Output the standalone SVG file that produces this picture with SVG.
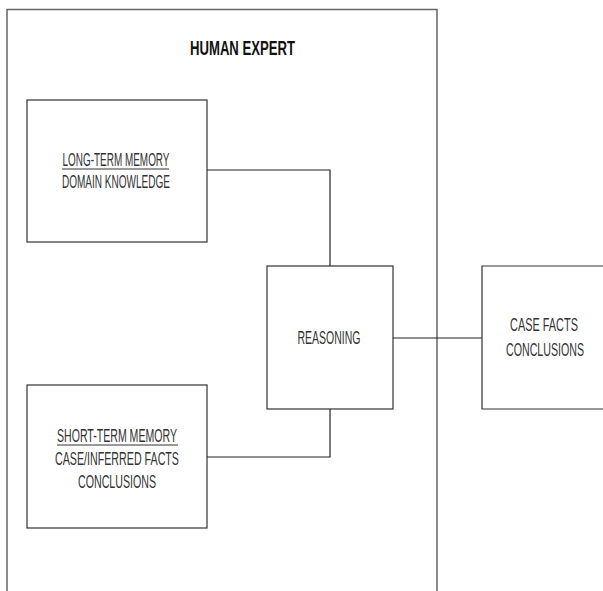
<svg xmlns="http://www.w3.org/2000/svg" width="603" height="591" viewBox="0 0 603 591">
<style>
.box{fill:#fff;stroke:#333;stroke-width:1.2}
.frame{fill:none;stroke:#666;stroke-width:1.5}
.conn{fill:none;stroke:#222;stroke-width:1.2}
.t{font-family:"Liberation Sans",Arial,sans-serif;font-size:18.5px;fill:#333;text-anchor:middle}
.title{font-family:"Liberation Sans",Arial,sans-serif;font-size:20px;font-weight:bold;fill:#111;text-anchor:middle}
.ul{stroke:#333;stroke-width:1}
</style>
<rect width="603" height="591" fill="#fff"/>
<g id="human-expert">
<path class="frame" d="M7,591 V9.5 H437 V591"/>
<text class="title" x="242.5" y="55" textLength="105" lengthAdjust="spacingAndGlyphs">HUMAN EXPERT</text>
</g>
<g id="connectors">
<path class="conn" d="M207,170 H330 V266"/>
<path class="conn" d="M207,457 H330 V409"/>
<path class="conn" d="M393,338 H482"/>
</g>
<g id="long-term-memory">
<rect class="box" x="27" y="100" width="180" height="142"/>
<text class="t" x="116" y="166" textLength="107" lengthAdjust="spacingAndGlyphs">LONG-TERM MEMORY</text>
<line class="ul" x1="62" y1="169" x2="169" y2="169"/>
<text class="t" x="116" y="188" textLength="108" lengthAdjust="spacingAndGlyphs">DOMAIN KNOWLEDGE</text>
</g>
<g id="short-term-memory">
<rect class="box" x="27" y="385" width="180" height="143"/>
<text class="t" x="117" y="442" textLength="120" lengthAdjust="spacingAndGlyphs">SHORT-TERM MEMORY</text>
<line class="ul" x1="57" y1="445" x2="178" y2="445"/>
<text class="t" x="117" y="465" textLength="124" lengthAdjust="spacingAndGlyphs">CASE/INFERRED FACTS</text>
<text class="t" x="117" y="488" textLength="78" lengthAdjust="spacingAndGlyphs">CONCLUSIONS</text>
</g>
<g id="reasoning">
<rect class="box" x="267" y="266" width="126" height="143"/>
<text class="t" x="329" y="344" textLength="63" lengthAdjust="spacingAndGlyphs">REASONING</text>
</g>
<g id="case-facts">
<path class="box" d="M603,266 H482 V409 H603"/>
<text class="t" transform="translate(544,331) scale(0.58,1)" x="0" y="0" textLength="117" lengthAdjust="spacingAndGlyphs">CASE FACTS</text>
<text class="t" transform="translate(545,356) scale(0.58,1)" x="0" y="0" textLength="134.5" lengthAdjust="spacingAndGlyphs">CONCLUSIONS</text>
</g>
</svg>
